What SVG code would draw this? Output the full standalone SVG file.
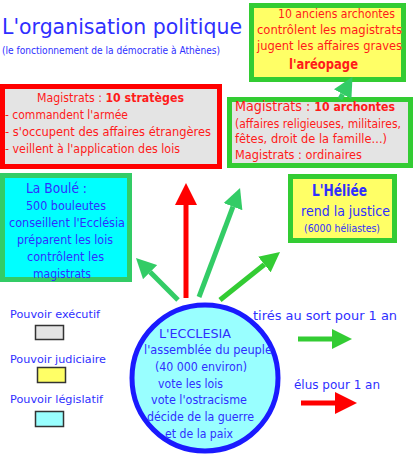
<svg xmlns="http://www.w3.org/2000/svg" width="415" height="463" viewBox="0 0 415 463">
<style>
text{font-family:"DejaVu Sans","Liberation Sans",sans-serif}
.blue{fill:#2f2fff}
.red{fill:#ff1a1a}
.b{font-weight:bold}
.box{stroke-width:5}
.leg{stroke:#333;stroke-width:1.5}
.shaft{stroke-width:5;fill:none}
</style>
<defs>
<marker id="hr" markerUnits="userSpaceOnUse" markerWidth="22" markerHeight="22" refX="0" refY="11" orient="auto"><path d="M0,0 L22,11 L0,22 z" fill="#ff0000"/></marker>
<marker id="hg1" markerUnits="userSpaceOnUse" markerWidth="20" markerHeight="20" refX="0" refY="10" orient="auto"><path d="M0,0 L20,10 L0,20 z" fill="#33cc66"/></marker>
<marker id="hg2" markerUnits="userSpaceOnUse" markerWidth="20" markerHeight="20" refX="0" refY="10" orient="auto"><path d="M0,0 L20,10 L0,20 z" fill="#33cc33"/></marker>
</defs>
<rect width="415" height="463" fill="#ffffff"/>
<g id="title">
<text x="2" y="34" font-size="22" class="blue" textLength="240" lengthAdjust="spacingAndGlyphs">L'organisation politique</text>
<text x="2" y="54" font-size="10" class="blue" textLength="218" lengthAdjust="spacingAndGlyphs">(le fonctionnement de la démocratie à Athènes)</text>
</g>
<g id="areopage">
<rect class="box" x="251.5" y="5.5" width="152" height="74" fill="#ffff66" stroke="#33cc33"/>
<text x="278" y="18" font-size="12" class="red" textLength="117" lengthAdjust="spacingAndGlyphs">10 anciens archontes</text>
<text x="257" y="34" font-size="12" class="red" textLength="145" lengthAdjust="spacingAndGlyphs">contrôlent les  magistrats</text>
<text x="257" y="50" font-size="12" class="red" textLength="145" lengthAdjust="spacingAndGlyphs">jugent les affaires graves</text>
<text x="289" y="69" font-size="14" class="red b" textLength="69" lengthAdjust="spacingAndGlyphs">l'aréopage</text>
</g>
<g id="strateges">
<rect class="box" x="2.5" y="86.5" width="217" height="80" fill="#e4e4e4" stroke="#ff0000"/>
<text x="37" y="102" font-size="12" class="red" textLength="147" lengthAdjust="spacingAndGlyphs">Magistrats : <tspan class="b">10 stratèges</tspan></text>
<text x="5" y="119" font-size="12" class="red" textLength="123" lengthAdjust="spacingAndGlyphs">- commandent l'armée</text>
<text x="5" y="136" font-size="12" class="red" textLength="206" lengthAdjust="spacingAndGlyphs">- s'occupent des affaires étrangères</text>
<text x="5" y="153" font-size="12" class="red" textLength="175" lengthAdjust="spacingAndGlyphs">- veillent à l'application des lois</text>
</g>
<g id="archontes">
<rect class="box" x="229.5" y="99.5" width="181" height="66" fill="#e4e4e4" stroke="#33cc33"/>
<text x="235" y="111" font-size="14" class="red" textLength="160" lengthAdjust="spacingAndGlyphs">Magistrats : <tspan class="b" font-size="12">10 archontes</tspan></text>
<text x="235" y="128" font-size="11.5" class="red" textLength="166" lengthAdjust="spacingAndGlyphs">(affaires religieuses, militaires,</text>
<text x="235" y="143" font-size="12" class="red" textLength="152" lengthAdjust="spacingAndGlyphs">fêtes, droit de la famille...)</text>
<text x="235" y="159" font-size="12" class="red" textLength="127" lengthAdjust="spacingAndGlyphs">Magistrats : ordinaires</text>
</g>
<g id="boule">
<rect class="box" x="2.5" y="175.5" width="127" height="104" fill="#00ffff" stroke="#33cc66"/>
<text x="26" y="193" font-size="14" class="blue" textLength="61" lengthAdjust="spacingAndGlyphs">La Boulé :</text>
<text x="26" y="210" font-size="12" class="blue" textLength="80" lengthAdjust="spacingAndGlyphs">500 bouleutes</text>
<text x="9" y="227" font-size="12" class="blue" textLength="116" lengthAdjust="spacingAndGlyphs">conseillent l'Ecclésia</text>
<text x="17" y="244" font-size="12" class="blue" textLength="96" lengthAdjust="spacingAndGlyphs">préparent les lois</text>
<text x="27" y="261" font-size="12" class="blue" textLength="77" lengthAdjust="spacingAndGlyphs">contrôlent les</text>
<text x="33" y="278" font-size="12" class="blue" textLength="58" lengthAdjust="spacingAndGlyphs">magistrats</text>
</g>
<g id="heliee">
<rect class="box" x="290.5" y="176.5" width="104" height="64" fill="#ffff66" stroke="#33cc33"/>
<text x="312" y="196" font-size="15" class="blue b" textLength="55" lengthAdjust="spacingAndGlyphs">L'Héliée</text>
<text x="301" y="216" font-size="14" class="blue" textLength="89" lengthAdjust="spacingAndGlyphs">rend la justice</text>
<text x="304" y="232" font-size="10" class="blue" textLength="76" lengthAdjust="spacingAndGlyphs">(6000 héliastes)</text>
</g>
<g id="ecclesia">
<circle cx="205" cy="378" r="73" fill="#99ffff" stroke="#1a1aff" stroke-width="5"/>
<text x="159" y="338" font-size="12" class="blue" textLength="72" lengthAdjust="spacingAndGlyphs">L'ECCLESIA</text>
<text x="144" y="354" font-size="12" class="blue" textLength="128" lengthAdjust="spacingAndGlyphs">l'assemblée du peuple</text>
<text x="155" y="371" font-size="12" class="blue" textLength="92" lengthAdjust="spacingAndGlyphs">(40 000 environ)</text>
<text x="158" y="388" font-size="12" class="blue" textLength="65" lengthAdjust="spacingAndGlyphs">vote les lois</text>
<text x="151" y="404" font-size="12" class="blue" textLength="96" lengthAdjust="spacingAndGlyphs">vote l'ostracisme</text>
<text x="147" y="421" font-size="12" class="blue" textLength="107" lengthAdjust="spacingAndGlyphs">décide de la guerre</text>
<text x="165" y="438" font-size="12" class="blue" textLength="68" lengthAdjust="spacingAndGlyphs">et de la paix</text>
</g>
<g id="connectors">
<line class="shaft" x1="186" y1="298" x2="186" y2="205" stroke="#ff0000" marker-end="url(#hr)"/>
<line class="shaft" x1="178" y1="300" x2="150.1" y2="272.1" stroke="#33cc66" marker-end="url(#hg1)"/>
<line class="shaft" x1="199" y1="297" x2="233" y2="206.7" stroke="#33cc66" marker-end="url(#hg1)"/>
<line class="shaft" x1="220" y1="300" x2="264.4" y2="264.5" stroke="#33cc33" marker-end="url(#hg2)"/>
<line class="shaft" x1="340" y1="99" x2="342.7" y2="94.2" stroke="#33cc66" marker-end="url(#hg1)"/>
</g>
<g id="legend">
<text x="10" y="318" font-size="11" class="blue" textLength="90" lengthAdjust="spacingAndGlyphs">Pouvoir exécutif</text>
<rect class="leg" x="35.5" y="325.5" width="28" height="14" fill="#e4e4e4"/>
<text x="10" y="363" font-size="11" class="blue" textLength="96" lengthAdjust="spacingAndGlyphs">Pouvoir judiciaire</text>
<rect class="leg" x="37.5" y="367.5" width="28" height="15" fill="#ffff66"/>
<text x="10" y="403" font-size="11" class="blue" textLength="93" lengthAdjust="spacingAndGlyphs">Pouvoir législatif</text>
<rect class="leg" x="35.5" y="411.5" width="28" height="15" fill="#99ffff"/>
<text x="253" y="320" font-size="12" class="blue" textLength="144" lengthAdjust="spacingAndGlyphs">tirés au sort pour 1 an</text>
<line class="shaft" x1="298" y1="339" x2="332" y2="339" stroke="#33cc33" marker-end="url(#hg2)"/>
<text x="294" y="389" font-size="12" class="blue" textLength="86" lengthAdjust="spacingAndGlyphs">élus pour 1 an</text>
<line class="shaft" x1="301" y1="403" x2="335" y2="403" stroke="#ff0000" marker-end="url(#hr)"/>
</g>
</svg>
